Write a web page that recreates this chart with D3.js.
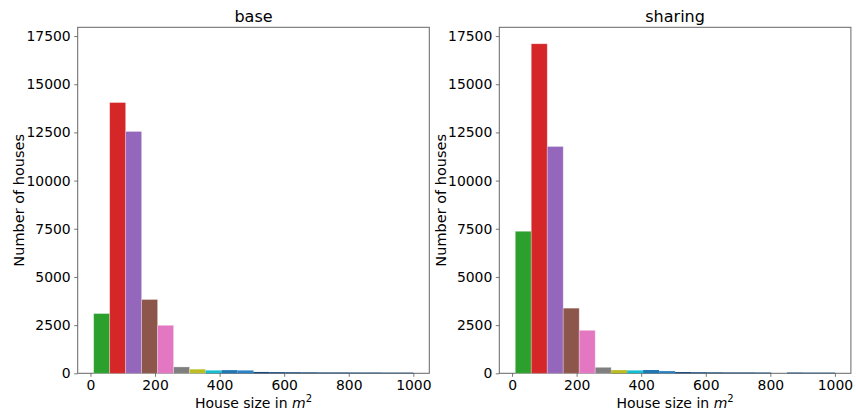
<!DOCTYPE html>
<html>
<head>
<meta charset="utf-8">
<script src="https://cdn.jsdelivr.net/npm/d3@7"></script>
<style>
  html, body { margin: 0; padding: 0; background: #fff; }
  svg { display: block; }
  text { font-family: "DejaVu Sans", sans-serif; fill: #000; }
</style>
</head>
<body>
<div id="chart"></div>
<script>
// Histogram bin edges (m²), 20 bins from 10 to 1000
const binEdges = [10, 59.5, 109, 158.5, 208, 257.5, 307, 356.5, 406, 455.5, 505,
                  554.5, 604, 653.5, 703, 752.5, 802, 851.5, 901, 950.5, 1000];

// Number of houses per bin
const baseCounts = [3100, 14050, 12550, 3830, 2490, 330, 215, 150, 165, 150,
                    70, 60, 55, 50, 45, 45, 40, 40, 35, 35];
const sharingCounts = [7370, 17100, 11770, 3380, 2230, 310, 165, 150, 170, 115,
                       65, 55, 50, 45, 45, 40, 0, 40, 35, 35];

const panelTitles = ["base", "sharing"];
const xTicks = [0, 200, 400, 600, 800, 1000];
const yTicks = [0, 2500, 5000, 7500, 10000, 12500, 15000, 17500];

const barColors = ["#2ca02c", "#d62728", "#9467bd", "#8c564b", "#e377c2",
                   "#7f7f7f", "#bcbd22", "#17becf", "#1f77b4", "#2c82c2",
                   "#174a7c", "#174a7c", "#174a7c", "#174a7c", "#174a7c",
                   "#174a7c", "#174a7c", "#174a7c", "#174a7c", "#174a7c"];

const W = 856, H = 413;
const svg = d3.select("#chart").append("svg").attr("width", W).attr("height", H);

const panels = [
  { title: panelTitles[0], counts: baseCounts, left: 77.7 },
  { title: panelTitles[1], counts: sharingCounts, left: 499.3 }
];
const plotW = 351.6, plotTop = 27.3, plotBottom = 373.3;

// shared y range with a 5% headroom, x with 5% margins on both sides
const yMax = d3.max([...baseCounts, ...sharingCounts]) * 1.05;
const xSpan = binEdges[binEdges.length - 1] - binEdges[0];
const xDomain = [binEdges[0] - 0.05 * xSpan, binEdges[binEdges.length - 1] + 0.05 * xSpan];

panels.forEach(p => {
  const x = d3.scaleLinear().domain(xDomain).range([p.left, p.left + plotW]);
  const y = d3.scaleLinear().domain([0, yMax]).range([plotBottom, plotTop]);
  const g = svg.append("g");

  const bins = p.counts.map((c, i) => ({ x0: binEdges[i], x1: binEdges[i + 1], c, color: barColors[i] }));

  // frame (drawn first so the bars sit on top of the bottom edge)
  g.append("rect")
    .attr("x", p.left).attr("y", plotTop)
    .attr("width", plotW).attr("height", plotBottom - plotTop)
    .attr("fill", "none").attr("stroke", "#666").attr("stroke-width", 1);

  g.selectAll("rect.bar").data(bins.filter(d => d.c > 0)).join("rect")
    .attr("class", "bar")
    .attr("x", d => x(d.x0))
    .attr("width", d => x(d.x1) - x(d.x0))
    .attr("y", d => y(d.c))
    .attr("height", d => y(0) - y(d.c))
    .attr("fill", d => d.color)
    .attr("stroke", "#fff")
    .attr("stroke-opacity", d => (y(0) - y(d.c)) > 4 ? 0.35 : 0)
    .attr("stroke-width", 0.8);

  // axes
  const xAxis = d3.axisBottom(x).tickValues(xTicks).tickFormat(d3.format("d"))
    .tickSize(3.5).tickPadding(3.5);
  const yAxis = d3.axisLeft(y).tickValues(yTicks).tickFormat(d3.format("d"))
    .tickSize(3.5).tickPadding(3.5);

  const gx = g.append("g").attr("transform", `translate(0,${plotBottom})`).call(xAxis);
  const gy = g.append("g").attr("transform", `translate(${p.left},0)`).call(yAxis);
  [gx, gy].forEach(a => {
    a.select(".domain").remove();
    a.selectAll(".tick line").attr("stroke", "#555").attr("stroke-width", 0.8);
    a.selectAll(".tick text").style("font-size", "13.9px")
      .style("font-family", "'DejaVu Sans', sans-serif").attr("fill", "#000");
  });

  // title
  g.append("text")
    .attr("x", p.left + plotW / 2).attr("y", 22)
    .attr("text-anchor", "middle")
    .style("font-size", "16px")
    .text(p.title);

  // x label with italic m and superscript 2
  const xl = g.append("text")
    .attr("x", p.left + plotW / 2).attr("y", 407.5)
    .attr("text-anchor", "middle")
    .style("font-size", "14px");
  xl.append("tspan").text("House size in ");
  xl.append("tspan").style("font-style", "italic").text("m");
  xl.append("tspan").attr("dy", -6).style("font-size", "10px").text("2");

  // y label
  g.append("text")
    .attr("transform", `translate(${p.left - 53.5},${(plotTop + plotBottom) / 2}) rotate(-90)`)
    .attr("text-anchor", "middle")
    .style("font-size", "14.5px")
    .text("Number of houses");
});
</script>
</body>
</html>
